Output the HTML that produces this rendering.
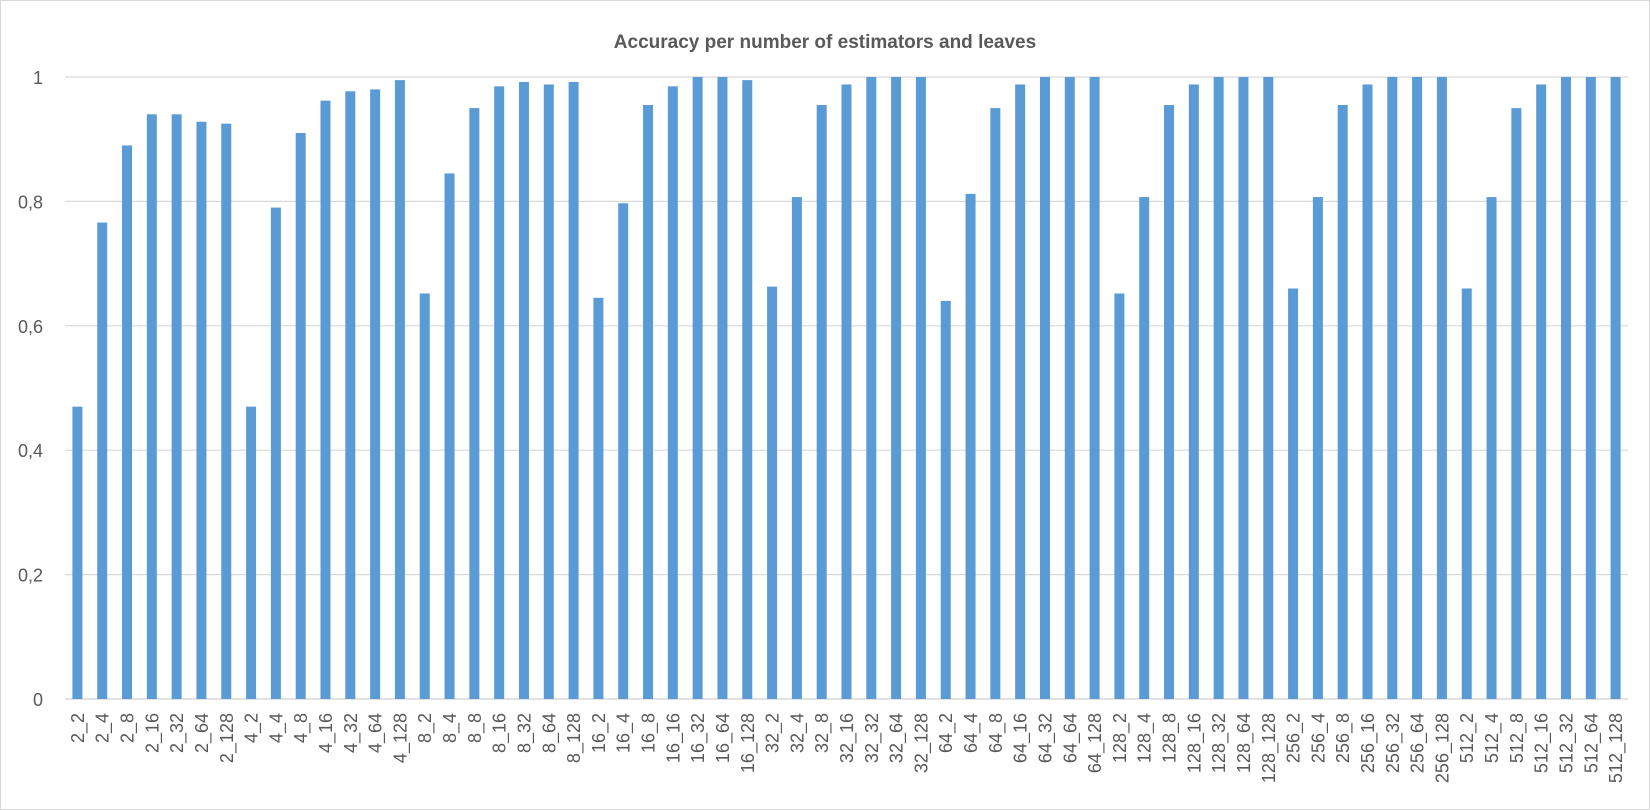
<!DOCTYPE html>
<html><head><meta charset="utf-8"><style>
html,body{margin:0;padding:0;background:#fff;}
svg{display:block;font-family:"Liberation Sans",sans-serif;}
</style></head><body>
<svg id="chart" width="1650" height="810">
<rect x="0.5" y="0.5" width="1649" height="809" fill="#fff" stroke="#d9d9d9"/>
<text x="825" y="48" text-anchor="middle" font-size="19" font-weight="bold" fill="#595959">Accuracy per number of estimators and leaves</text>
<g id="grid"></g><g id="bars"></g><g id="xl"></g>
</svg>
<script>
const estimators = ["2","4","8","16","32","64","128","256","512"];
const leaves = ["2","4","8","16","32","64","128"];
const accuracy = [
0.47,0.766,0.89,0.94,0.94,0.928,0.925,
0.47,0.79,0.91,0.962,0.977,0.98,0.995,
0.652,0.845,0.95,0.985,0.992,0.988,0.992,
0.645,0.797,0.955,0.985,1,1,0.995,
0.663,0.807,0.955,0.988,1,1,1,
0.64,0.812,0.95,0.988,1,1,1,
0.652,0.807,0.955,0.988,1,1,1,
0.66,0.807,0.955,0.988,1,1,1,
0.66,0.807,0.95,0.988,1,1,1];
const yTicks = [0,0.2,0.4,0.6,0.8,1];
const yTickLabels = ["0","0,2","0,4","0,6","0,8","1"];
const categories = [];
estimators.forEach(e=>leaves.forEach(l=>categories.push(e+"_"+l)));
const NS="http://www.w3.org/2000/svg";
const x0=65,x1=1628,yTop=77,yBot=699;
const bw=(x1-x0)/categories.length;
const yS=v=>yBot-v*(yBot-yTop);
const xS=i=>x0+bw*(i+0.5);
function mk(t,a,p){const e=document.createElementNS(NS,t);for(const k in a)e.setAttribute(k,a[k]);p.appendChild(e);return e;}
const g=document.getElementById('grid');
yTicks.forEach((v,i)=>{
  const l=mk('line',{x1:x0,x2:x1,y1:yS(v),y2:yS(v),stroke:'#d9d9d9','stroke-width':i===0?1.5:1.2},g);
  
  
  const t=mk('text',{x:43,y:yS(v)+7,'text-anchor':'end','font-size':18,fill:'#595959'},g);
  t.textContent=yTickLabels[i];
  
  
});
const b=document.getElementById('bars'),xl=document.getElementById('xl');
categories.forEach((c,i)=>{
  const v=accuracy[i];
  const r=mk('rect',{x:xS(i)-5,width:10,y:yS(v),height:yBot-yS(v),fill:'#5b9bd5'},b);
  
  
  const t=mk('text',{transform:`translate(${xS(i)+6.5},713) rotate(-90)`,'text-anchor':'end','font-size':18,fill:'#595959'},xl);
  t.textContent=c;
  
  
});
</script>
</body></html>
